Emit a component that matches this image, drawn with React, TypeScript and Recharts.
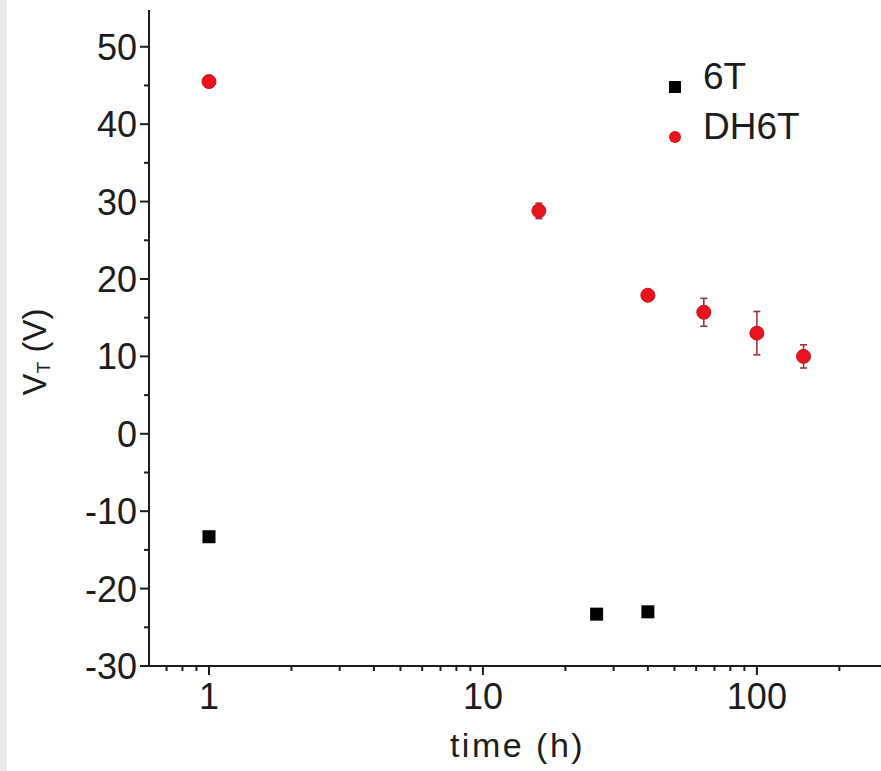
import { ScatterChart, Scatter, XAxis, YAxis, ErrorBar, Legend, Label } from "recharts";

const FONT = "'Liberation Sans', Arial, sans-serif";
const INK = "#1c1c1c";
const RED = "#e8141c";
const ERR = "#9c3444";

// 6T series
const hours6T = [1, 26, 40];
const vt6T = [-13.3, -23.3, -23.0];

// DH6T series (with y error)
const hoursDH6T = [1, 16, 40, 64, 100, 148];
const vtDH6T = [45.5, 28.8, 17.9, 15.7, 13.0, 10.0];
const errDH6T = [0.4, 1.0, 0.6, 1.8, 2.8, 1.5];

// axes
const xMajorTicks = [1, 10, 100];
const xMinorTicks = [0.7, 0.8, 0.9, 2, 3, 4, 5, 6, 7, 8, 9, 20, 30, 40, 50, 60, 70, 80, 90, 200];
const yMajorTicks = [-30, -20, -10, 0, 10, 20, 30, 40, 50];
const yMinorTicks = [-25, -15, -5, 5, 15, 25, 35, 45];
const xDomain = [0.604, 296];
const yDomain = [-30, 54.75];

const data6T = hours6T.map((h, i) => ({ h, vt: vt6T[i] }));
const dataDH6T = hoursDH6T.map((h, i) => ({ h, vt: vtDH6T[i], err: errDH6T[i] }));
const xTicks = [...xMinorTicks, ...xMajorTicks].sort((a, b) => a - b);
const yTicks = [...yMinorTicks, ...yMajorTicks].sort((a, b) => a - b);

function BottomTick(props: any) {
  const { x, y, payload } = props;
  const major = xMajorTicks.includes(payload.value);
  return (
    <g>
      <line x1={x} y1={y} x2={x} y2={y + (major ? 9 : 5)} stroke={INK} strokeWidth={2} />
      {major && (
        <text x={x} y={y + 43} textAnchor="middle" fontSize={36} fill={INK} fontFamily={FONT}>
          {payload.value}
        </text>
      )}
    </g>
  );
}

function TopTick(props: any) {
  const { x, y, payload } = props;
  const major = xMajorTicks.includes(payload.value);
  return <line x1={x} y1={y} x2={x} y2={y + (major ? 7 : 4)} stroke={INK} strokeWidth={2} />;
}

function LeftTick(props: any) {
  const { x, y, payload } = props;
  const major = yMajorTicks.includes(payload.value);
  return (
    <g>
      <line x1={x - (major ? 9 : 5)} y1={y} x2={x} y2={y} stroke={INK} strokeWidth={2} />
      {major && (
        <text x={x - 12} y={y} dy="0.36em" textAnchor="end" fontSize={36} fill={INK} fontFamily={FONT}>
          {payload.value}
        </text>
      )}
    </g>
  );
}

function RightTick(props: any) {
  const { x, y } = props;
  return <line x1={x - 9} y1={y} x2={x} y2={y} stroke={INK} strokeWidth={2} />;
}

function YTitle(props: any) {
  const vb = props.viewBox;
  const cx = vb.x + 34;
  const cy = vb.y + vb.height / 2 + 14;
  return (
    <text
      x={cx}
      y={cy}
      transform={`rotate(-90 ${cx} ${cy})`}
      textAnchor="middle"
      dominantBaseline="central"
      fontSize={33}
      fill={INK}
      fontFamily={FONT}
    >
      V<tspan fontSize={19} dy={9}>T</tspan>
      <tspan dy={-9}> (V)</tspan>
    </text>
  );
}

function XTitle(props: any) {
  const vb = props.viewBox;
  return (
    <text
      x={vb.x + vb.width / 2}
      y={vb.y + 91}
      textAnchor="middle"
      fontSize={34}
      letterSpacing={2.5}
      fill={INK}
      fontFamily={FONT}
    >
      time (h)
    </text>
  );
}

function LegendBox(props: any) {
  const { payload } = props;
  return (
    <div style={{ fontFamily: FONT, fontSize: 37, color: INK }}>
      {(payload || []).map((e: any) => (
        <div key={e.value} style={{ display: "flex", alignItems: "center", height: 50 }}>
          <svg width={16} height={16} style={{ marginRight: 20, position: "relative", top: 10 }}>
            {e.type === "square" ? (
              <rect x={2} y={2} width={12} height={12} fill={e.color} />
            ) : (
              <circle cx={8} cy={8} r={6} fill={e.color} />
            )}
          </svg>
          <span>{e.value}</span>
        </div>
      ))}
    </div>
  );
}

export default function App() {
  return (
    <div
      style={{
        position: "absolute",
        left: 0,
        top: 0,
        width: 881,
        height: 771,
        overflow: "hidden",
        background: "#fff",
      }}
    >
      <div style={{ position: "absolute", left: 0, top: 0, width: 7, height: 771, background: "#e9e9e9" }} />
      <ScatterChart width={900} height={771} margin={{ top: 10, right: 14, bottom: 0, left: 0 }}>
        <XAxis
          dataKey="h"
          type="number"
          scale="log"
          domain={xDomain}
          allowDataOverflow
          ticks={xTicks}
          interval={0}
          height={105}
          tickSize={0}
          tickMargin={0}
          tickLine={false}
          tick={<BottomTick />}
          axisLine={{ stroke: INK, strokeWidth: 2 }}
        >
          <Label content={<XTitle />} />
        </XAxis>
        <XAxis
          xAxisId="top"
          orientation="top"
          type="number"
          scale="log"
          domain={xDomain}
          allowDataOverflow
          ticks={xTicks}
          interval={0}
          height={0}
          tickSize={0}
          tickMargin={0}
          tickLine={false}
          tick={<TopTick />}
          axisLine={{ stroke: INK, strokeWidth: 2 }}
        />
        <YAxis
          dataKey="vt"
          type="number"
          domain={yDomain}
          allowDataOverflow
          ticks={yTicks}
          interval={0}
          width={149}
          tickSize={0}
          tickMargin={0}
          tickLine={false}
          tick={<LeftTick />}
          axisLine={{ stroke: INK, strokeWidth: 2 }}
        >
          <Label content={<YTitle />} />
        </YAxis>
        <YAxis
          yAxisId="right"
          orientation="right"
          type="number"
          domain={yDomain}
          allowDataOverflow
          ticks={yMajorTicks}
          interval={0}
          width={0}
          tickSize={0}
          tickMargin={0}
          tickLine={false}
          tick={<RightTick />}
          axisLine={{ stroke: INK, strokeWidth: 2 }}
        />
        <Legend
          layout="vertical"
          align="center"
          verticalAlign="middle"
          content={<LegendBox />}
          wrapperStyle={{ left: 667, top: 52, width: 200 }}
        />
        <Scatter
          name="6T"
          data={data6T}
          fill="#000"
          legendType="square"
          isAnimationActive={false}
          shape={(p: any) => <rect x={p.cx - 6.5} y={p.cy - 6.5} width={13} height={13} fill="#000" />}
        />
        <Scatter
          name="DH6T"
          data={dataDH6T}
          fill={RED}
          legendType="circle"
          isAnimationActive={false}
          shape={(p: any) => <circle cx={p.cx} cy={p.cy} r={7} fill={RED} stroke="#d0101a" strokeWidth={1} />}
        >
          <ErrorBar dataKey="err" direction="y" width={3.5} stroke={ERR} strokeWidth={1.6} />
        </Scatter>
      </ScatterChart>
    </div>
  );
}
